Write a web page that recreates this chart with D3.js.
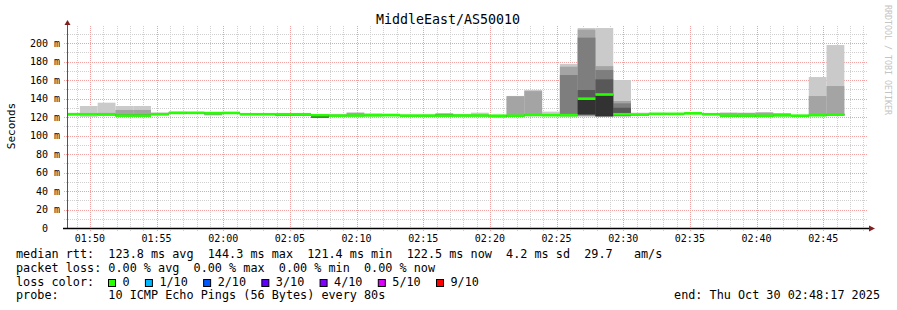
<!DOCTYPE html>
<html><head><meta charset="utf-8">
<script src="https://cdn.jsdelivr.net/npm/d3@7/dist/d3.min.js"></script>
<style>
html,body{margin:0;padding:0;background:#fff;}
svg{display:block;font-family:"DejaVu Sans Mono",monospace;}
text{white-space:pre;}
</style></head><body>
<svg id="c" width="897" height="310"></svg>
<script>
// ---------------- data ----------------
const title = "MiddleEast/AS50010";
const graphStart = "2025-10-30 01:48:17";
const graphEnd = "2025-10-30 02:48:17";
const firstStep = "2025-10-30 01:47:55";
const stepSeconds = 80;
// 10 sorted ping RTTs (ms) per 80 s step
const pings = [
  [121.6,122.0,122.3,122.6,122.8,123.0,123.2,123.5,124.0,124.5],
  [120.2,122.0,122.4,122.6,122.8,123.0,123.2,123.6,124.2,131.9],
  [121.0,121.8,122.2,122.5,122.7,122.8,123.1,123.5,124.5,135.5],
  [120.5,120.8,121.0,121.2,121.4,121.5,121.8,123.0,127.6,131.9],
  [120.4,120.8,121.0,121.2,121.4,121.5,121.9,123.2,127.6,131.9],
  [121.8,122.2,122.5,122.7,122.9,123.0,123.2,123.5,124.0,125.0],
  [123.0,123.4,123.8,124.0,124.3,124.5,124.7,125.0,125.3,125.8],
  [123.2,123.6,123.9,124.1,124.3,124.5,124.7,124.9,125.2,125.6],
  [121.5,122.2,123.0,123.6,124.0,124.2,124.5,124.8,125.1,125.5],
  [123.2,123.6,123.9,124.1,124.3,124.4,124.6,124.8,125.1,125.4],
  [121.8,122.2,122.5,122.7,122.9,123.0,123.2,123.4,123.7,124.1],
  [121.9,122.3,122.5,122.8,122.9,123.0,123.2,123.4,123.6,124.0],
  [120.8,121.2,121.6,122.2,122.8,123.0,123.2,123.4,123.7,124.0],
  [121.0,121.4,121.8,122.3,122.8,123.0,123.2,123.4,123.6,124.0],
  [119.3,119.4,119.5,119.6,119.7,121.8,122.0,122.3,122.6,123.0],
  [120.5,120.8,121.0,121.2,121.4,121.5,121.7,122.0,122.5,123.0],
  [120.4,120.8,121.1,121.3,121.5,121.6,121.9,122.3,124.6,124.8],
  [120.6,121.0,121.3,121.5,121.7,121.8,122.0,122.3,122.8,124.1],
  [120.8,121.2,121.5,121.7,121.9,122.0,122.2,122.5,122.9,123.6],
  [120.2,120.6,120.9,121.1,121.3,121.5,121.7,121.9,122.2,122.6],
  [120.3,120.7,121.0,121.2,121.4,121.5,121.7,121.9,122.2,122.7],
  [120.3,120.7,121.0,121.2,121.4,121.5,121.8,123.5,123.6,123.7],
  [120.4,120.8,121.1,121.3,121.5,121.6,121.8,122.1,122.5,123.0],
  [120.4,120.8,121.1,121.3,121.5,121.6,121.8,122.2,122.8,124.7],
  [119.5,119.7,119.9,120.3,120.8,121.4,121.6,121.8,122.0,122.3],
  [120.0,120.4,120.7,120.9,121.1,121.4,121.6,121.9,142.5,142.8],
  [120.6,121.0,121.5,121.8,122.1,122.3,122.6,123.0,148.0,149.3],
  [120.8,121.2,121.5,121.7,121.9,122.0,122.2,122.6,123.2,125.8],
  [120.4,120.8,121.2,121.6,121.9,122.0,122.4,165.4,174.4,177.3],
  [120.3,121.0,121.8,122.5,123.0,139.8,149.2,205.8,214.5,216.2],
  [120.2,120.4,120.6,120.8,121.0,144.3,160.7,170.8,175.0,216.2],
  [120.3,120.8,121.3,121.8,122.2,123.0,130.0,134.8,137.3,160.0],
  [121.0,121.4,121.7,122.0,122.3,122.5,122.7,123.0,123.5,124.7],
  [122.2,122.6,122.9,123.1,123.3,123.4,123.6,123.9,124.2,124.6],
  [122.3,122.6,122.9,123.1,123.3,123.4,123.6,123.8,124.1,124.5],
  [122.8,123.2,123.5,123.7,123.9,124.0,124.2,124.5,124.9,125.4],
  [121.8,122.2,122.5,122.7,122.9,123.0,123.2,123.5,123.8,124.2],
  [120.0,120.3,120.6,120.8,121.1,121.5,121.7,122.0,124.5,124.8],
  [120.1,120.4,120.7,120.9,121.2,121.5,121.7,122.1,124.4,124.7],
  [119.8,120.1,120.4,120.6,120.9,121.4,121.6,122.0,124.6,125.4],
  [120.6,121.0,121.3,121.5,121.7,121.8,122.2,123.5,123.7,123.9],
  [120.0,120.3,120.6,120.8,121.1,121.4,121.6,121.8,122.0,122.4],
  [120.8,121.2,121.5,121.7,121.9,122.0,122.3,122.8,142.7,163.2],
  [121.0,121.4,121.8,122.0,122.3,122.5,122.8,123.3,153.5,197.8]
];
const median = [123.0,123.0,122.8,121.5,121.5,123.0,124.5,124.5,124.2,124.4,
  123.0,123.0,123.0,123.0,121.8,121.5,121.6,121.8,122.0,121.5,
  121.5,121.5,121.6,121.6,121.4,121.4,122.3,122.0,122.0,139.8,
  144.3,123.0,122.5,123.4,123.4,124.0,123.0,121.5,121.5,121.4,
  121.8,121.4,122.0,122.5];
const yTicks = [0,20,40,60,80,100,120,140,160,180,200];
const yMax = 218.4;
const smokeColors = ["#cacaca","#a4a4a4","#7e7e7e","#585858","#323232"];
const medianColor = "#26ff00";
const lossLabels = ["0","1/10","2/10","3/10","4/10","5/10","9/10"];
const lossColors = ["#26ff00","#00b8ff","#0059ff","#5e00ff","#7e00ff","#dd00ff","#ff0000"];
const legendRtt = "median rtt:  123.8 ms avg  144.3 ms max  121.4 ms min  122.5 ms now  4.2 ms sd  29.7   am/s";
const legendLoss = "packet loss: 0.00 % avg  0.00 % max  0.00 % min  0.00 % now";
const legendLossColor = "loss color:";
const legendProbe = "probe:       10 ICMP Echo Pings (56 Bytes) every 80s";
const legendEnd = "end: Thu Oct 30 02:48:17 2025";
const yTitle = "Seconds";
const watermark = "RRDTOOL / TOBI OETIKER";

// ---------------- drawing ----------------
const parse = d3.timeParse("%Y-%m-%d %H:%M:%S");
const t0 = parse(graphStart), t1 = parse(graphEnd), s0 = parse(firstStep);
const L = 67, R = 867, T = 26, B = 228;
const x = d3.scaleTime().domain([t0, t1]).range([L, R]);
const y = d3.scaleLinear().domain([0, yMax]).range([B, T]);
const svg = d3.select("#c");
svg.append("rect").attr("width",897).attr("height",310).attr("fill","#fff");

// grid
const g = svg.append("g");
const minorX = d3.timeMinute.every(1).range(t0, t1);
const majorX = d3.timeMinute.every(5).range(t0, t1);
const isMajorX = d => d.getMinutes() % 5 === 0;
g.selectAll(".vmin").data(minorX.filter(d=>!isMajorX(d))).join("line")
  .attr("x1", d=>Math.round(x(d))+0.5).attr("x2", d=>Math.round(x(d))+0.5)
  .attr("y1", T).attr("y2", B+3)
  .attr("stroke","#cfcfcf").attr("stroke-dasharray","1,1");
const yMinor = d3.range(10, yMax, 10).filter(v => v % 20 !== 0);
g.selectAll(".hmin").data(yMinor).join("line")
  .attr("x1", L-3).attr("x2", R)
  .attr("y1", d=>Math.round(y(d))+0.5).attr("y2", d=>Math.round(y(d))+0.5)
  .attr("stroke","#cfcfcf").attr("stroke-dasharray","1,1");
g.selectAll(".vmaj").data(majorX).join("line")
  .attr("x1", d=>Math.round(x(d))+0.5).attr("x2", d=>Math.round(x(d))+0.5)
  .attr("y1", T).attr("y2", B+3)
  .attr("stroke","#f2a0a0").attr("stroke-dasharray","1,1");
g.selectAll(".hmaj").data(yTicks.filter(v=>v>0)).join("line")
  .attr("x1", L-3).attr("x2", R)
  .attr("y1", d=>Math.round(y(d))+0.5).attr("y2", d=>Math.round(y(d))+0.5)
  .attr("stroke","#f2a0a0").attr("stroke-dasharray","1,1");

// clip
svg.append("clipPath").attr("id","plot").append("rect")
  .attr("x",L).attr("y",T).attr("width",R-L).attr("height",B-T);
const data = pings.map((p,i)=>({
  a: d3.timeSecond.offset(s0, i*stepSeconds),
  b: d3.timeSecond.offset(s0, (i+1)*stepSeconds),
  p, m: median[i]
}));
const plot = svg.append("g").attr("clip-path","url(#plot)");
smokeColors.forEach((c,k)=>{
  plot.append("g").selectAll("rect").data(data).join("rect")
    .attr("x", d=>x(d.a)).attr("width", d=>x(d.b)-x(d.a))
    .attr("y", d=>y(d.p[9-k])).attr("height", d=>Math.max(0, y(d.p[k]) - y(d.p[9-k])))
    .attr("fill", c);
});
plot.append("g").selectAll("rect").data(data).join("rect")
  .attr("x", d=>x(d.a)).attr("width", d=>x(d.b)-x(d.a))
  .attr("y", d=>y(d.m)-1.3).attr("height", 2.6)
  .attr("fill", medianColor);

// axes
svg.append("line").attr("x1",L+0.5).attr("x2",L+0.5).attr("y1",B).attr("y2",T-4)
  .attr("stroke","#555").attr("stroke-width",1);
svg.append("line").attr("x1",L-4).attr("x2",R+3).attr("y1",B+0.5).attr("y2",B+0.5)
  .attr("stroke","#000").attr("stroke-width",1.4);
svg.append("path").attr("d",`M${L-2.5},${T-1}L${L+3.5},${T-1}L${L+0.5},${T-6}Z`).attr("fill","#7f1f1f");
svg.append("path").attr("d",`M${R+2},${B-2.5}L${R+2},${B+3.5}L${R+8},${B+0.5}Z`).attr("fill","#7f1f1f");

// tick labels
svg.append("g").selectAll("text").data(yTicks).join("text")
  .attr("x", 60).attr("y", d=>y(d)).attr("dy","0.36em")
  .attr("text-anchor","end").attr("font-size",10).attr("fill","#000")
  .text(d => d === 0 ? "0  " : `${d} m`);
svg.append("g").selectAll("text").data(majorX).join("text")
  .attr("x", d=>x(d)).attr("y", 241.5)
  .attr("text-anchor","middle").attr("font-size",10).attr("fill","#000")
  .text(d3.timeFormat("%H:%M"));

// titles
svg.append("text").attr("x",448).attr("y",24).attr("text-anchor","middle")
  .attr("font-size",13.3).attr("fill","#000").text(title);
svg.append("text").attr("transform",`translate(15,126) rotate(-90)`)
  .attr("text-anchor","middle").attr("font-size",11).attr("fill","#000").text(yTitle);
svg.append("text").attr("transform",`translate(885,5) rotate(90)`)
  .attr("font-size",8.3).attr("fill","#c4c4c4").text(watermark);

// legend
const fs = 11.8;
const leg = svg.append("g").attr("font-size",fs).attr("fill","#000");
leg.append("text").attr("x",16).attr("y",258).text(legendRtt);
leg.append("text").attr("x",16).attr("y",271.5).text(legendLoss);
leg.append("text").attr("x",16).attr("y",285.5).text(legendLossColor);
leg.append("text").attr("x",16).attr("y",299).text(legendProbe);
leg.append("text").attr("x",880).attr("y",299).attr("text-anchor","end").text(legendEnd);
let bx = 108;
lossLabels.forEach((lab,i)=>{
  leg.append("rect").attr("x",bx+0.5).attr("y",279.5).attr("width",7).attr("height",7)
    .attr("fill",lossColors[i]).attr("stroke","#000").attr("stroke-width",1);
  const t = leg.append("text").attr("x",bx+14.5).attr("y",285.5).text(lab);
  bx = bx + 14.5 + t.node().getComputedTextLength() + 15.3;
});
</script>
</body></html>
